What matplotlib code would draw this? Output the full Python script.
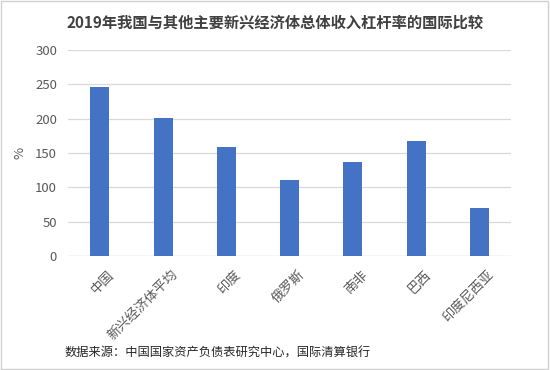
import matplotlib.pyplot as plt
import matplotlib.transforms as mtransforms
from matplotlib.patches import Rectangle

plt.rcParams['font.family'] = ['Noto Sans CJK SC', 'DejaVu Sans']

countries = ['中国', '新兴经济体平均', '印度', '俄罗斯', '南非', '巴西', '印度尼西亚']
leverage = [246, 201, 159, 111, 137, 167, 70]
yticks = [0, 50, 100, 150, 200, 250, 300]

fig = plt.figure(figsize=(5.5, 3.7), dpi=100)
ax = fig.add_axes([0.124, 0.308, 0.805, 0.557])

x = list(range(len(countries)))
ax.bar(x, leverage, width=0.3, color='#4472C4', zorder=3)
ax.set_xlim(-0.5, len(countries) - 0.5)
ax.set_ylim(0, 300)
ax.set_yticks(yticks)
ax.set_xticks(x)
ax.set_xticklabels([])

# rotated category labels, nudged right of the bar centre like the original
trans = ax.get_xaxis_transform() + mtransforms.ScaledTranslation(
    8 / 100, -12 / 100, fig.dpi_scale_trans)
for i, name in zip(x, countries):
    ax.text(i, 0, name, transform=trans, rotation=45, ha='right', va='top',
            rotation_mode='anchor', fontsize=9.5, color='#595959')

ax.tick_params(axis='y', labelsize=9.5, colors='#595959', length=0, pad=8)
ax.tick_params(axis='x', length=0)
ax.yaxis.grid(True, color='#d9d9d9', linewidth=0.9, zorder=0)
for s in ax.spines.values():
    s.set_visible(False)
ax.axhline(0, color='#d9d9d9', linewidth=0.9, zorder=1)
ax.set_ylabel('%', fontsize=9.5, color='#595959', labelpad=6)

fig.text(0.5, 0.94, '2019年我国与其他主要新兴经济体总体收入杠杆率的国际比较',
         ha='center', va='center', fontsize=11, fontweight='bold', color='#404040')
fig.text(0.118, 0.045, '数据来源：中国国家资产负债表研究中心，国际清算银行',
         ha='left', va='center', fontsize=8.8, color='#262626')

fig.patches.append(Rectangle((0.002, 0.003), 0.995, 0.993, transform=fig.transFigure,
                             fill=False, edgecolor='#d0d0d0', linewidth=1))

fig.savefig('out.png', dpi=100)
